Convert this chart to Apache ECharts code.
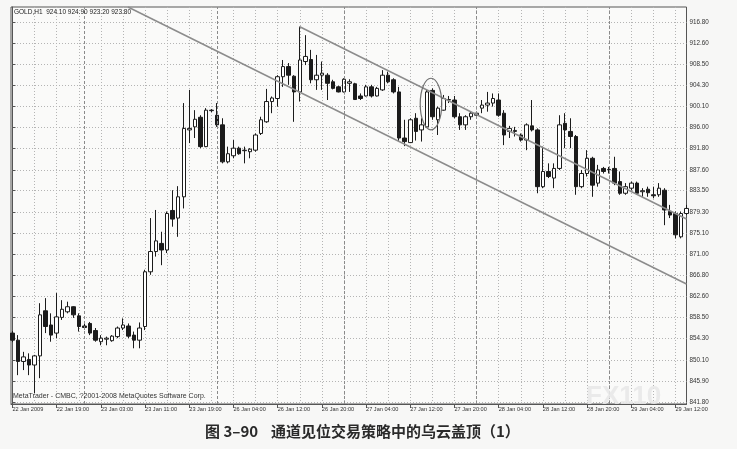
<!DOCTYPE html>
<html><head><meta charset="utf-8">
<script src="https://cdn.jsdelivr.net/npm/echarts@6/dist/echarts.min.js"></script>
<style>html,body{margin:0;padding:0;background:#f7f7f6}#c{width:737px;height:449px}</style>
</head><body><div id="c"></div>
<script>
// ---- data ----
const xLabels = ['22 Jan 2009','22 Jan 19:00','23 Jan 03:00','23 Jan 11:00','23 Jan 19:00','26 Jan 04:00','26 Jan 12:00','26 Jan 20:00','27 Jan 04:00','27 Jan 12:00','27 Jan 20:00','28 Jan 04:00','28 Jan 12:00','28 Jan 20:00','29 Jan 04:00','29 Jan 12:00'];
const xLabelBars = [0,8,16,24,32,40,48,56,64,72,80,88,96,104,112,120];
const xGridBars = [0,4,8,12,16,20,24,28,32,36,40,44,48,52,56,60,64,68,72,76,80,84,88,92,96,100,104,108,112,116,120];
const yTickLabels = ['841.80','845.90','850.10','854.30','858.50','862.60','866.80','871.00','875.10','879.30','883.50','887.60','891.80','896.00','900.10','904.30','908.50','912.60','916.80'];
const daySeparators = [13,37,60,84,108];
// [open, close, low, high]
const candles = [
[855.4,854.0,853.6,855.8],[854.0,849.8,847.1,855.0],[849.8,850.7,848.1,851.7],[850.2,849.1,847.1,851.4],
[849.1,850.9,843.5,851.1],[850.9,859.0,846.5,861.3],[859.8,856.7,855.4,862.3],[857.0,855.0,853.7,859.3],
[855.4,858.6,854.4,863.3],[858.5,860.1,858.0,861.9],[859.6,860.6,859.3,861.6],[860.6,859.0,858.4,860.7],
[858.8,856.7,855.7,859.3],[856.8,856.5,856.1,857.3],[857.3,855.4,855.0,857.6],[855.9,854.0,853.7,856.4],
[853.7,854.4,853.0,855.0],[854.2,854.4,853.0,854.7],[853.9,854.8,853.7,855.0],[854.7,856.4,854.4,856.7],
[856.4,857.0,856.0,858.3],[856.8,854.8,854.4,857.3],[855.0,854.0,852.4,855.7],[854.0,856.4,852.4,857.5],
[856.7,867.5,856.0,867.9],[867.5,871.5,866.9,878.1],[871.5,873.6,870.5,879.7],[873.1,871.8,868.8,875.4],
[871.8,879.0,871.2,879.4],[879.6,877.9,876.4,883.6],[878.1,882.3,874.4,884.4],[882.3,895.8,880.0,900.8],
[895.5,895.8,892.9,903.4],[896.1,897.6,893.9,899.4],[898.0,892.2,891.9,898.4],[892.2,899.4,892.1,899.8],
[899.3,899.4,899.0,899.6],[898.4,896.5,896.1,900.8],[896.5,889.2,888.9,897.8],[889.2,890.8,888.9,892.2],
[890.4,891.9,889.9,893.5],[891.9,890.8,890.6,892.2],[891.4,891.5,888.9,892.2],[891.2,891.7,889.9,891.9],
[891.5,894.5,891.2,894.8],[894.8,897.5,894.5,898.1],[897.1,901.1,896.9,903.6],[901.1,901.8,898.8,902.1],
[901.7,906.0,900.1,906.3],[906.0,908.0,904.0,909.3],[908.0,906.3,904.4,908.7],[906.1,903.0,897.1,906.3],
[903.0,909.3,901.1,915.9],[909.0,910.0,908.3,914.2],[909.4,905.4,904.7,911.3],[905.4,906.3,903.4,910.3],
[906.3,906.7,903.4,909.0],[906.3,904.7,901.4,906.7],[905.0,903.7,903.5,905.4],[904.0,903.0,902.9,904.2],
[903.0,905.5,902.9,905.7],[904.7,905.0,903.0,905.5],[904.6,901.5,901.4,904.8],[902.2,901.7,901.4,902.7],
[902.2,904.0,902.1,904.4],[904.0,902.2,901.9,904.4],[902.2,903.7,902.1,904.0],[903.4,906.3,903.2,907.3],
[906.3,905.0,904.7,907.0],[905.4,903.0,902.7,905.7],[903.0,893.9,893.2,904.0],[893.9,893.2,892.3,897.5],
[893.0,897.5,892.9,897.8],[897.8,895.2,893.4,898.8],[895.5,896.5,893.2,897.8],[896.1,903.0,896.0,903.4],
[903.3,898.1,897.5,903.7],[897.5,899.8,894.5,900.1],[899.4,901.7,899.3,902.4],[901.4,901.5,900.8,902.2],
[901.4,898.1,897.8,902.2],[898.1,896.5,895.5,898.8],[896.5,898.1,895.5,898.4],[898.1,898.8,897.5,899.1],
[898.4,898.8,898.1,899.1],[899.8,900.4,898.8,901.4],[900.4,900.8,899.1,903.0],[900.8,901.7,900.1,902.7],
[901.4,898.4,898.1,902.7],[898.8,894.5,892.5,899.4],[895.2,895.8,893.9,896.3],[895.2,895.4,894.2,896.1],
[894.5,893.5,893.2,894.8],[893.5,896.5,891.5,896.8],[896.3,895.5,895.2,901.4],[895.5,884.3,883.0,895.8],
[884.3,887.3,884.0,892.2],[887.3,886.3,886.0,888.9],[886.0,887.9,884.0,888.9],[887.9,896.5,887.6,898.4],
[896.8,895.5,891.9,898.8],[895.2,894.2,891.9,897.8],[894.2,884.3,882.7,894.5],[884.3,886.9,884.0,887.6],
[886.9,889.9,886.3,891.5],[889.9,884.6,882.3,890.2],[885.0,887.6,884.3,888.6],[887.9,887.3,886.9,888.2],
[887.6,887.7,886.9,888.2],[887.9,885.0,884.6,890.2],[885.3,883.0,882.7,887.3],[883.0,884.3,882.7,885.0],
[884.0,885.0,883.6,885.3],[885.0,883.0,882.7,885.3],[883.3,883.5,882.3,884.0],[883.8,883.1,882.3,884.3],
[882.7,882.5,882.0,884.3],[882.7,884.0,882.3,885.0],[883.6,879.7,876.7,884.0],[879.4,878.7,878.1,880.7],
[879.0,874.8,874.1,879.4],[874.4,879.0,874.1,879.4],[879.0,880.0,878.7,880.7]
];
// trend channel lines: [barIndex, price]
const upperChannel = [[52, 915.87],[122, 877.92]];
const lowerChannel = [[20.9, 919.76],[122, 865.09]];
// highlighted pattern (ellipse) in bars / prices
const ellipseBars = [73.8, 77.7];
const ellipsePrices = [895.5, 905.7];

const headerText = 'GOLD,H1  924.10 924.90 923.20 923.80';
const footerText = 'MetaTrader - CMBC, ?2001-2008 MetaQuotes Software Corp.';
const captionNo = '图 3–90';
const captionText = '通道见位交易策略中的乌云盖顶（1）';

// ---- chart ----
const chart = echarts.init(document.getElementById('c'), null, {renderer: 'canvas'});
const font = 'Liberation Sans, Arial, sans-serif';
const gridDash = {color: '#b4b4b4', type: [1, 2], width: 1};
const yVals = yTickLabels.map(parseFloat);

const option = {
  animation: false,
  backgroundColor: '#f7f7f6',
  grid: {left: 11, top: 7, width: 675.5, height: 397, show: true, borderColor: '#555', borderWidth: 1, backgroundColor: '#fafaf9'},
  xAxis: [{
    type: 'value', min: -0.27, max: 122, position: 'bottom',
    axisLine: {show: true, lineStyle: {color: '#555', width: 1}},
    axisTick: {show: true, customValues: xLabelBars, length: 4, lineStyle: {color: '#555'}},
    axisLabel: {customValues: xLabelBars, align: 'left', margin: 2, fontSize: 5.6, fontFamily: font, color: '#333',
      formatter: v => xLabels[xLabelBars.indexOf(Math.round(v))] || ''},
    splitLine: {show: false}
  }, {
    type: 'value', min: -0.27, max: 122, position: 'top',
    axisLine: {show: false}, axisLabel: {show: false},
    axisTick: {show: false, customValues: xGridBars},
    splitLine: {show: true, lineStyle: gridDash}
  }],
  yAxis: {
    type: 'value', position: 'right', min: 841.405, max: 919.76,
    axisLine: {show: true, lineStyle: {color: '#555', width: 1}},
    axisTick: {show: true, customValues: yVals, length: 3, lineStyle: {color: '#555'}},
    axisLabel: {customValues: yVals, margin: 3, fontSize: 6.3, fontFamily: font, color: '#333',
      formatter: v => yTickLabels[yVals.indexOf(v)] || v.toFixed(2)},
    splitLine: {show: true, lineStyle: gridDash}
  },
  series: [{
    type: 'candlestick',
    xAxisIndex: 0, yAxisIndex: 0,
    data: candles.map((c, i) => [i, c[0], c[1], c[2], c[3]]),
    encode: {x: 0, y: [1, 2, 3, 4]},
    barWidth: 4,
    itemStyle: {color: '#ffffff', color0: '#1b1b1b', borderColor: '#1b1b1b', borderColor0: '#1b1b1b', borderWidth: 1},
    markLine: {
      silent: true, symbol: ['none', 'none'], label: {show: false},
      lineStyle: {color: '#8a8a8a', type: [3, 2], width: 1},
      data: daySeparators.map(v => ({xAxis: v}))
    },
    z: 3
  }, {
    type: 'line', xAxisIndex: 0, yAxisIndex: 0, data: upperChannel, symbol: 'none',
    lineStyle: {color: '#8c8c8c', width: 1.5}, silent: true, z: 4
  }, {
    type: 'line', xAxisIndex: 0, yAxisIndex: 0, data: lowerChannel, symbol: 'none',
    lineStyle: {color: '#8c8c8c', width: 1.5}, silent: true, z: 4
  }]
};
chart.setOption(option);

const pA = chart.convertToPixel({seriesIndex: 0}, [ellipseBars[0], ellipsePrices[1]]);
const pB = chart.convertToPixel({seriesIndex: 0}, [ellipseBars[1], ellipsePrices[0]]);
chart.setOption({
  graphic: [
    {type: 'ellipse', shape: {cx: (pA[0] + pB[0]) / 2, cy: (pA[1] + pB[1]) / 2, rx: Math.abs(pB[0] - pA[0]) / 2, ry: Math.abs(pB[1] - pA[1]) / 2},
     style: {fill: 'none', stroke: '#707070', lineWidth: 1.2}, z: 10},
    {type: 'text', left: 14, top: 9, style: {text: headerText, font: '6.5px ' + font, fill: '#222'}, z: 10},
    {type: 'text', left: 13, top: 393, style: {text: footerText, font: '7px ' + font, fill: '#333'}, z: 10},
    {type: 'text', left: 586, top: 384, style: {text: 'FX110', font: 'bold 26px ' + font, fill: 'rgba(232,232,232,0.9)'}, z: 20},
    {type: 'text', left: 205, top: 424, style: {text: captionNo, font: 'bold 15px "Noto Sans CJK SC", sans-serif', fill: '#2a2a2a'}, z: 10},
    {type: 'text', left: 271, top: 424, style: {text: captionText, font: 'bold 15px "Noto Sans CJK SC", sans-serif', fill: '#2a2a2a'}, z: 10}
  ]
});
</script>
</body></html>
